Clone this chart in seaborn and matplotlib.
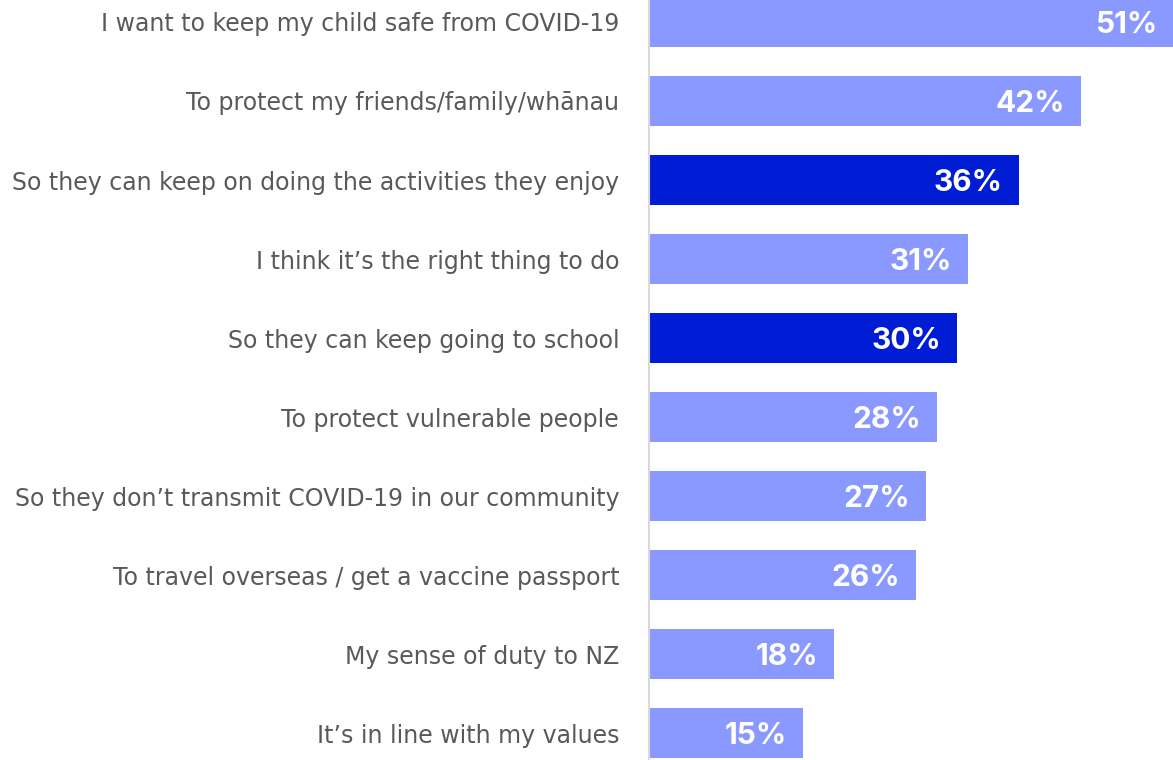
import matplotlib
matplotlib.use("Agg")
import matplotlib.pyplot as plt
import seaborn as sns
import pandas as pd

reasons = [
    "I want to keep my child safe from COVID-19",
    "To protect my friends/family/whānau",
    "So they can keep on doing the activities they enjoy",
    "I think it’s the right thing to do",
    "So they can keep going to school",
    "To protect vulnerable people",
    "So they don’t transmit COVID-19 in our community",
    "To travel overseas / get a vaccine passport",
    "My sense of duty to NZ",
    "It’s in line with my values",
]
percent = [51, 42, 36, 31, 30, 28, 27, 26, 18, 15]
highlight = [False, False, True, False, True, False, False, False, False, False]

LIGHT = "#8A99FF"
DARK = "#001CD4"

df = pd.DataFrame({"reason": reasons, "percent": percent,
                   "group": ["hi" if h else "lo" for h in highlight]})

sns.set_theme(style="white")
plt.rcParams["font.family"] = ["DejaVu Sans"]

fig = plt.figure(figsize=(11.73, 7.60), dpi=100)
ax = fig.add_axes([649 / 1173, 0, 1 - 649 / 1173, 1])

sns.barplot(data=df, y="reason", x="percent", hue="group",
            palette={"hi": DARK, "lo": LIGHT}, order=reasons,
            dodge=False, width=50 / 79, legend=False, ax=ax,
            saturation=1, linewidth=0)

ax.set_xlim(0, 51.0)
ax.set_ylim(9.34, -0.278)
ax.set_xlabel("")
ax.set_ylabel("")
ax.set_xticks([])
for s in ["top", "right", "bottom"]:
    ax.spines[s].set_visible(False)
ax.spines["left"].set_color("#d9d9d9")
ax.spines["left"].set_linewidth(1.5)

ax.tick_params(axis="y", length=0, pad=21.5)
ax.set_yticks(range(len(reasons)))
ax.set_yticklabels(reasons, fontsize=17, color="#595959",
                   family=["DejaVu Sans"])

for i, v in enumerate(percent):
    ax.text(v - 1.55, i + 0.04, f"{v}%", ha="right", va="center",
            color="white", fontsize=21.5, fontweight="bold",
            family=["Inter", "Open Sans", "DejaVu Sans"])

fig.savefig("out.png", dpi=100)
